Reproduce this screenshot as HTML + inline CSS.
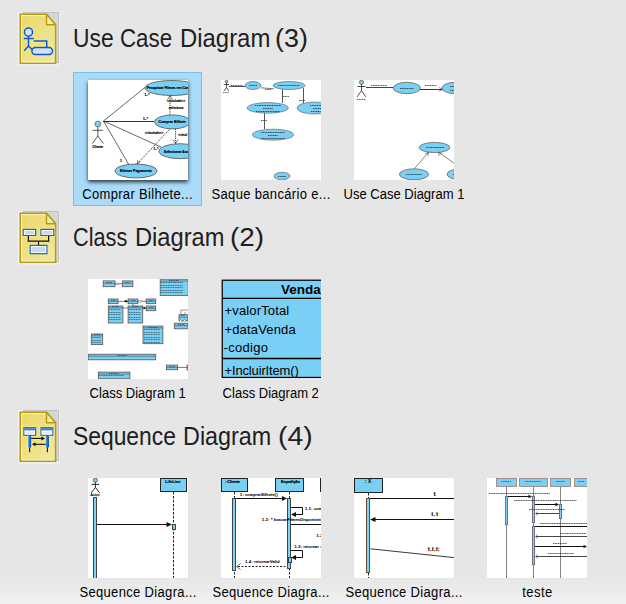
<!DOCTYPE html>
<html><head><meta charset="utf-8">
<style>
html,body{margin:0;padding:0;}
body{width:626px;height:604px;overflow:hidden;position:relative;background:#e6e6e6;font-family:"Liberation Sans",sans-serif;}
.fade{position:absolute;left:0;top:574px;width:626px;height:30px;background:linear-gradient(#e6e6e6,#f0f0f0);}
.title{position:absolute;left:72px;font-size:26px;line-height:30px;color:#202020;white-space:nowrap;transform:scaleX(.92);transform-origin:0 0;}
.lbl{position:absolute;font-size:14px;line-height:15px;color:#000;white-space:nowrap;text-align:center;width:140px;}
.lbl span{display:inline-block;transform:scaleX(.93);}
.tr{letter-spacing:.35px;}
.thumb{position:absolute;width:100px;height:100px;background:#fff;overflow:hidden;}
.thumb svg{position:absolute;left:0;top:0;font-family:"Liberation Sans",sans-serif;}
.sel{position:absolute;left:73px;top:72px;width:127px;height:132px;border:1px solid #74bff0;background:#aadcfa;}
.icon{position:absolute;left:16px;width:46px;height:56px;}
</style></head><body>
<div class="fade"></div>
<svg class="icon" style="top:10px" width="46" height="56" viewBox="0 0 46 56">
<defs><linearGradient id="pg10" x1="0" y1="0" x2="1" y2="1"><stop offset="0" stop-color="#ecd866"/><stop offset="1" stop-color="#f1e8a6"/></linearGradient></defs>
<rect x="2.5" y="2.5" width="40.5" height="52.5" fill="none" stroke="#f2f3f8" stroke-width="1"/>
<rect x="7.5" y="2.5" width="35" height="50" fill="#d6d6d6" stroke="#c2c2c2" stroke-width="1"/>
<path d="M4.25,4.25 H30.5 L39.6,14.8 V53.2 H4.25 Z" fill="url(#pg10)" stroke="#b59a12" stroke-width="1.5"/>
<path d="M38.3,51.9 H5.6 V5.6 H29.8" fill="none" stroke="#f7f0bd" stroke-width="1"/>
<path d="M30.5,4.25 V14.8 H39.6 Z" fill="#f5ec9e" stroke="#b59a12" stroke-width="1.4" stroke-linejoin="round"/>
<g stroke="#ffef60" stroke-width="3" fill="none" opacity=".6">
<circle cx="12.5" cy="22.1" r="4.3"/><path d="M7.7,28.6 H17.8 M12.5,26.4 V36 L8.2,40.8 M12.5,36 L15.9,39.4 M17.8,30.9 H30.7 V37"/>
<rect x="15.9" y="37.5" width="20.6" height="6.9" rx="3.45"/></g>
<g stroke="#0a5ad6" stroke-width="1.5" fill="#d3e0f0">
<circle cx="12.5" cy="22.1" r="4.1"/>
<path d="M7.7,28.6 H17.8 M12.5,26.4 V36 L8.2,40.8 M12.5,36 L15.9,39.4 M17.8,30.9 H30.7 V37.5" fill="none"/>
<rect x="15.9" y="37.5" width="20.6" height="6.9" rx="3.45"/></g>
</svg>
<div class="title" style="top:23px;left:72.64px;transform:scaleX(0.8791)">Use</div>
<div class="title" style="top:23px;left:120.14px;transform:scaleX(0.8576)">Case</div>
<div class="title" style="top:23px;left:179.86px;transform:scaleX(0.9189)">Diagram</div>
<div class="title" style="top:23px;left:274.73px;transform:scaleX(1.0357)">(3)</div>
<div class="sel"></div>
<div class="thumb" style="left:88px;top:80px;height:100px;box-shadow:0 2px 4px rgba(0,0,0,.8);"><svg width="100" height="100" viewBox="0 0 100 100"><line x1="15.5" y1="41" x2="56.8" y2="7.6" stroke="#222" stroke-width="0.7"/><line x1="15" y1="41.5" x2="66" y2="41.5" stroke="#333" stroke-width="1" opacity="1"/><line x1="15.5" y1="41" x2="73.5" y2="67.3" stroke="#222" stroke-width="0.7"/><line x1="15.5" y1="41" x2="41" y2="84.9" stroke="#222" stroke-width="0.7"/><line x1="82" y1="48.9" x2="49" y2="84" stroke="#222" stroke-width="0.9" stroke-dasharray="1.2,1"/><path d="M49,84 L50,80 M49,84 L52.5,81.5" stroke="#222" stroke-width=".6"/><line x1="82" y1="16" x2="82" y2="34.9" stroke="#222" stroke-width="0.9" stroke-dasharray="1.2,1"/><path d="M79.5,19.5 L82,15.5 L84.5,19.5" fill="none" stroke="#222" stroke-width=".6"/><line x1="87.6" y1="48.9" x2="87.6" y2="63.4" stroke="#222" stroke-width="0.9" stroke-dasharray="1.2,1"/><path d="M85.1,59.6 L87.6,63.6 L90.1,59.6" fill="none" stroke="#222" stroke-width=".6"/><ellipse cx="84" cy="8" rx="27" ry="7.5" fill="#7acff5" stroke="#4a3a30" stroke-width="0.7"/><ellipse cx="84.5" cy="41.9" rx="18" ry="7" fill="#7acff5" stroke="#4a3a30" stroke-width="0.7"/><ellipse cx="92" cy="71.2" rx="21" ry="7.5" fill="#7acff5" stroke="#4a3a30" stroke-width="0.7"/><ellipse cx="48" cy="91" rx="21" ry="7" fill="#7acff5" stroke="#4a3a30" stroke-width="0.7"/><circle cx="9.85" cy="43.9" r="2.9" fill="#7acff5" stroke="#5a4030" stroke-width="0.6000000000000001"/><path d="M4.55,50.3 H15.149999999999999 M9.85,46.8 V56 L4.25,63.6 M9.85,56 L15.45,63.6" stroke="#222" stroke-width="0.75" fill="none"/><text x="9.7" y="68.2" font-size="3.3" text-anchor="middle" font-weight="bold" fill="#000" stroke="#000" stroke-width="0.17">Cliente</text><text x="82" y="9.3" font-size="3.5" text-anchor="middle" font-weight="bold" fill="#000" stroke="#000" stroke-width="0.18">Pesquisar Filmes em Cartaz</text><text x="84" y="43.2" font-size="3.5" text-anchor="middle" font-weight="bold" fill="#000" stroke="#000" stroke-width="0.18">Comprar Bilhete</text><text x="92" y="72.5" font-size="3.5" text-anchor="middle" font-weight="bold" fill="#000" stroke="#000" stroke-width="0.18">Selecionar Assento</text><text x="48" y="92.3" font-size="3.5" text-anchor="middle" font-weight="bold" fill="#000" stroke="#000" stroke-width="0.18">Efetuar Pagamento</text><text x="59" y="15.5" font-size="3.2" text-anchor="middle" font-weight="bold" fill="#000" stroke="#000" stroke-width="0.16">1..*</text><text x="57.5" y="39.5" font-size="3.2" text-anchor="middle" font-weight="bold" fill="#000" stroke="#000" stroke-width="0.16">1..*</text><text x="68" y="70" font-size="3.2" text-anchor="middle" font-weight="bold" fill="#000" stroke="#000" stroke-width="0.16">1..*</text><text x="33" y="81.5" font-size="3.2" text-anchor="middle" font-weight="bold" fill="#000" stroke="#000" stroke-width="0.16">1</text><text x="88" y="22" font-size="3.2" text-anchor="middle" font-weight="bold" fill="#000" stroke="#000" stroke-width="0.16">&lt;&lt;include&gt;&gt;</text><text x="88" y="28.5" font-size="3.2" text-anchor="middle" font-weight="bold" fill="#000" stroke="#000" stroke-width="0.16">seleciona</text><text x="66" y="53.6" font-size="3.2" text-anchor="middle" font-weight="bold" fill="#000" stroke="#000" stroke-width="0.16">&lt;&lt;include&gt;&gt;</text><text x="90" y="55.6" font-size="3.2" text-anchor="start" font-weight="bold" fill="#000" stroke="#000" stroke-width="0.16">&lt;&lt;incl</text></svg></div>
<div class="thumb" style="left:221px;top:80px;height:100px;"><svg width="100" height="100" viewBox="0 0 100 100"><line x1="8" y1="6.5" x2="24" y2="6.5" stroke="#555" stroke-width="1" opacity="1"/><line x1="40" y1="7.8" x2="53" y2="8.8" stroke="#555" stroke-width="0.8"/><line x1="61.5" y1="9" x2="61.5" y2="23" stroke="#555" stroke-width="1" opacity="1"/><line x1="82.5" y1="8" x2="82.5" y2="23" stroke="#555" stroke-width="1" opacity="1"/><line x1="43.5" y1="33" x2="43.5" y2="49" stroke="#555" stroke-width="1" opacity="1"/><ellipse cx="32" cy="5.5" rx="8" ry="4" fill="#7acff5" stroke="#4a3a30" stroke-width="0.5"/><ellipse cx="68" cy="5.5" rx="16" ry="4" fill="#7acff5" stroke="#4a3a30" stroke-width="0.5"/><ellipse cx="46.7" cy="27.9" rx="20.6" ry="5.3" fill="#7acff5" stroke="#4a3a30" stroke-width="0.5"/><ellipse cx="93" cy="28" rx="17" ry="6" fill="#7acff5" stroke="#4a3a30" stroke-width="0.5"/><ellipse cx="52" cy="54.7" rx="20.6" ry="5.5" fill="#7acff5" stroke="#4a3a30" stroke-width="0.5"/><ellipse cx="61" cy="96" rx="8" ry="3.8" fill="#7acff5" stroke="#4a3a30" stroke-width="0.5"/><circle cx="5.5" cy="1.6" r="1.3" fill="#7acff5" stroke="#5a4030" stroke-width="0.6400000000000001"/><path d="M2.7,4.5 H8.3 M5.5,2.9000000000000004 V7.5 L3.1,10.8 M5.5,7.5 L7.9,10.8" stroke="#222" stroke-width="0.8" fill="none"/><line x1="2" y1="12.5" x2="8" y2="12.5" stroke="#222" stroke-width="1" stroke-dasharray="1.2,.5" opacity="0.6"/><line x1="10" y1="5.5" x2="22" y2="5.5" stroke="#222" stroke-width="1" stroke-dasharray="1.2,.5" opacity="0.75"/><line x1="44" y1="9.5" x2="50" y2="9.5" stroke="#222" stroke-width="1" stroke-dasharray="1.2,.5" opacity="0.75"/><line x1="62" y1="16.5" x2="68" y2="16.5" stroke="#222" stroke-width="1" stroke-dasharray="1.2,.5" opacity="0.75"/><line x1="78" y1="20.5" x2="84" y2="20.5" stroke="#222" stroke-width="1" stroke-dasharray="1.2,.5" opacity="0.75"/><line x1="40" y1="40.5" x2="46" y2="40.5" stroke="#222" stroke-width="1" stroke-dasharray="1.2,.5" opacity="0.75"/><line x1="28" y1="5.5" x2="36" y2="5.5" stroke="#222" stroke-width="1" stroke-dasharray="1.2,.5" opacity="0.75"/><line x1="57" y1="5.5" x2="79" y2="5.5" stroke="#222" stroke-width="1" stroke-dasharray="1.2,.5" opacity="0.75"/><line x1="34" y1="25.5" x2="60" y2="25.5" stroke="#222" stroke-width="1" stroke-dasharray="1.2,.5" opacity="0.75"/><line x1="42" y1="28.5" x2="52" y2="28.5" stroke="#222" stroke-width="1" stroke-dasharray="1.2,.5" opacity="0.75"/><line x1="35" y1="31.5" x2="59" y2="31.5" stroke="#222" stroke-width="1" stroke-dasharray="1.2,.5" opacity="0.75"/><line x1="89" y1="25.5" x2="103" y2="25.5" stroke="#222" stroke-width="1" stroke-dasharray="1.2,.5" opacity="0.75"/><line x1="92" y1="28.5" x2="100" y2="28.5" stroke="#222" stroke-width="1" stroke-dasharray="1.2,.5" opacity="0.75"/><line x1="90" y1="31.5" x2="102" y2="31.5" stroke="#222" stroke-width="1" stroke-dasharray="1.2,.5" opacity="0.75"/><line x1="40" y1="52.5" x2="64" y2="52.5" stroke="#222" stroke-width="1" stroke-dasharray="1.2,.5" opacity="0.75"/><line x1="47" y1="55.5" x2="57" y2="55.5" stroke="#222" stroke-width="1" stroke-dasharray="1.2,.5" opacity="0.75"/><line x1="40" y1="58.5" x2="64" y2="58.5" stroke="#222" stroke-width="1" stroke-dasharray="1.2,.5" opacity="0.75"/><line x1="57" y1="96.5" x2="65" y2="96.5" stroke="#222" stroke-width="1" stroke-dasharray="1.2,.5" opacity="0.75"/></svg></div>
<div class="thumb" style="left:354px;top:80px;height:100px;"><svg width="100" height="100" viewBox="0 0 100 100"><line x1="12" y1="7.5" x2="39" y2="7.5" stroke="#444" stroke-width="1" opacity="1"/><line x1="66" y1="9.5" x2="88" y2="9.5" stroke="#333" stroke-width="1" opacity="1"/><path d="M85,7.5 L88.6,9.4 L85,11.3" fill="none" stroke="#222" stroke-width=".5"/><line x1="60.3" y1="88.7" x2="74.3" y2="72.6" stroke="#333" stroke-width="0.6"/><path d="M71.2,73.6 L74.6,72.4 L74,76" fill="none" stroke="#222" stroke-width=".5"/><line x1="99.8" y1="83" x2="84.9" y2="72.6" stroke="#333" stroke-width="0.6"/><path d="M85,76 L84.6,72.4 L88.2,73.2" fill="none" stroke="#222" stroke-width=".5"/><ellipse cx="52.8" cy="8" rx="13.6" ry="5.7" fill="#7acff5" stroke="#4a3a30" stroke-width="0.6"/><ellipse cx="101" cy="8" rx="13" ry="5.7" fill="#7acff5" stroke="#4a3a30" stroke-width="0.6"/><ellipse cx="80.5" cy="67.5" rx="15.3" ry="5.1" fill="#7acff5" stroke="#4a3a30" stroke-width="0.6"/><ellipse cx="60" cy="94.3" rx="14.6" ry="5.5" fill="#7acff5" stroke="#4a3a30" stroke-width="0.6"/><ellipse cx="107" cy="94.3" rx="14" ry="5.5" fill="#7acff5" stroke="#4a3a30" stroke-width="0.6"/><circle cx="7.5" cy="2.3" r="2.1" fill="#7acff5" stroke="#5a4030" stroke-width="0.6400000000000001"/><path d="M3.5,6.5 H11.5 M7.5,4.4 V10.5 L3.2,16.8 M7.5,10.5 L11.8,16.8" stroke="#222" stroke-width="0.8" fill="none"/><line x1="3" y1="19.5" x2="12" y2="19.5" stroke="#222" stroke-width="1" stroke-dasharray="1.2,.5" opacity="0.7"/><line x1="17" y1="5.5" x2="33" y2="5.5" stroke="#222" stroke-width="1" stroke-dasharray="1.2,.5" opacity="0.75"/><line x1="71" y1="5.5" x2="83" y2="5.5" stroke="#222" stroke-width="1" stroke-dasharray="1.2,.5" opacity="0.75"/><line x1="46" y1="8.5" x2="60" y2="8.5" stroke="#222" stroke-width="1" stroke-dasharray="1.2,.5" opacity="0.75"/><line x1="96" y1="6.5" x2="100" y2="6.5" stroke="#222" stroke-width="1" stroke-dasharray="1.2,.5" opacity="0.75"/><line x1="96" y1="10.5" x2="100" y2="10.5" stroke="#222" stroke-width="1" stroke-dasharray="1.2,.5" opacity="0.75"/><line x1="72" y1="67.5" x2="90" y2="67.5" stroke="#222" stroke-width="1" stroke-dasharray="1.2,.5" opacity="0.75"/><line x1="52" y1="94.5" x2="68" y2="94.5" stroke="#222" stroke-width="1" stroke-dasharray="1.2,.5" opacity="0.75"/><line x1="99" y1="94.5" x2="103" y2="94.5" stroke="#222" stroke-width="1" stroke-dasharray="1.2,.5" opacity="0.75"/></svg></div>
<div class="lbl" style="left:68px;top:187px"><span class="tr">Comprar Bilhete...</span></div>
<div class="lbl" style="left:201px;top:187px"><span class="tr">Saque bancário e...</span></div>
<div class="lbl" style="left:334px;top:187px"><span>Use Case Diagram 1</span></div>
<svg class="icon" style="top:209px" width="46" height="56" viewBox="0 0 46 56">
<defs><linearGradient id="pg209" x1="0" y1="0" x2="1" y2="1"><stop offset="0" stop-color="#ecd866"/><stop offset="1" stop-color="#f1e8a6"/></linearGradient></defs>
<rect x="2.5" y="2.5" width="40.5" height="52.5" fill="none" stroke="#f2f3f8" stroke-width="1"/>
<rect x="7.5" y="2.5" width="35" height="50" fill="#d6d6d6" stroke="#c2c2c2" stroke-width="1"/>
<path d="M4.25,4.25 H30.5 L39.6,14.8 V53.2 H4.25 Z" fill="url(#pg209)" stroke="#b59a12" stroke-width="1.5"/>
<path d="M38.3,51.9 H5.6 V5.6 H29.8" fill="none" stroke="#f7f0bd" stroke-width="1"/>
<path d="M30.5,4.25 V14.8 H39.6 Z" fill="#f5ec9e" stroke="#b59a12" stroke-width="1.4" stroke-linejoin="round"/>
<g stroke="#fff170" stroke-width="3" fill="none" opacity=".6">
<rect x="7.2" y="20.4" width="12.5" height="6"/><rect x="25" y="20.4" width="12.8" height="6"/><rect x="14.2" y="36.4" width="16.7" height="8.3"/></g>
<path d="M12.4,26.4 V32.2 M32.6,26.4 V32.2 M11.6,32.2 H33.4 M22.5,32.2 V36.4" stroke="#111" stroke-width="1.2" fill="none"/>
<g stroke="#1560d8" stroke-width="1.2" fill="#c9d9ec">
<rect x="7.2" y="20.4" width="12.5" height="6"/><rect x="25" y="20.4" width="12.8" height="6"/><rect x="14.2" y="36.4" width="16.7" height="8.3"/></g>
<g stroke="#fff" stroke-width="0.8" fill="none">
<rect x="8.3" y="21.5" width="10.3" height="3.8"/><rect x="26.1" y="21.5" width="10.6" height="3.8"/><rect x="15.3" y="37.5" width="14.5" height="6.1"/></g>
</svg>
<div class="title" style="top:222px;left:72.77px;transform:scaleX(0.8349)">Class</div>
<div class="title" style="top:222px;left:134.68px;transform:scaleX(0.9105)">Diagram</div>
<div class="title" style="top:222px;left:230.46px;transform:scaleX(1.0714)">(2)</div>
<div class="thumb" style="left:88px;top:279px;height:100px;"><svg width="100" height="100" viewBox="0 0 100 100"><line x1="27" y1="4.8" x2="34.3" y2="4.8" stroke="#222" stroke-width="0.6"/><path d="M27,4.8 L29,3.8 L31,4.8 L29,5.8 Z" fill="#fff" stroke="#333" stroke-width=".4"/><line x1="30" y1="22.3" x2="58.2" y2="22.3" stroke="#222" stroke-width="0.6"/><path d="M40.1,22.3 L38,21 L36,22.3 L38,23.6 Z" fill="#111"/><path d="M49.8,22.3 L52,21 L54,22.3 L52,23.6 Z" fill="#fff" stroke="#333" stroke-width=".4"/><line x1="54.7" y1="29" x2="58.2" y2="29" stroke="#222" stroke-width="0.6"/><path d="M58.2,29 L55.5,27.6 V30.4 Z" fill="#111"/><line x1="34.9" y1="29" x2="40.1" y2="29" stroke="#222" stroke-width="0.6"/><line x1="45" y1="24.7" x2="45" y2="27" stroke="#222" stroke-width="0.6"/><line x1="89.6" y1="88.4" x2="99" y2="88.4" stroke="#222" stroke-width="0.6"/><path d="M93,35.7 V31 H100 M97,35.7 V33" stroke="#333" stroke-width=".5" fill="none"/><rect x="15.2" y="1.9" width="11.8" height="5.8" fill="#7acff5" stroke="#5e5048" stroke-width=".8"/><line x1="15.2" y1="4.3" x2="27.0" y2="4.3" stroke="#333" stroke-width=".5"/><line x1="18" y1="3.5" x2="24" y2="3.5" stroke="#222" stroke-width="1" stroke-dasharray="1.2,.5" opacity="0.6"/><rect x="34.3" y="1.9" width="10.6" height="5.8" fill="#7acff5" stroke="#5e5048" stroke-width=".8"/><line x1="34.3" y1="4.3" x2="44.9" y2="4.3" stroke="#333" stroke-width=".5"/><line x1="37" y1="3.5" x2="42" y2="3.5" stroke="#222" stroke-width="1" stroke-dasharray="1.2,.5" opacity="0.6"/><rect x="72.2" y="0.1" width="28" height="16.3" fill="#7acff5" stroke="#5e5048" stroke-width=".8"/><line x1="72.2" y1="2.1" x2="100.2" y2="2.1" stroke="#333" stroke-width=".5"/><line x1="81" y1="1.5" x2="91" y2="1.5" stroke="#222" stroke-width="1" stroke-dasharray="1.2,.5" opacity="0.6"/><line x1="73" y1="3.5" x2="95" y2="3.5" stroke="#222" stroke-width="1" stroke-dasharray="1.2,.5" opacity="0.55"/><line x1="73" y1="6.5" x2="95" y2="6.5" stroke="#222" stroke-width="1" stroke-dasharray="1.2,.5" opacity="0.55"/><line x1="73" y1="8.5" x2="95" y2="8.5" stroke="#222" stroke-width="1" stroke-dasharray="1.2,.5" opacity="0.55"/><line x1="73" y1="11.5" x2="95" y2="11.5" stroke="#222" stroke-width="1" stroke-dasharray="1.2,.5" opacity="0.55"/><line x1="73" y1="13.5" x2="95" y2="13.5" stroke="#222" stroke-width="1" stroke-dasharray="1.2,.5" opacity="0.55"/><rect x="20.3" y="20" width="9.7" height="4.7" fill="#7acff5" stroke="#5e5048" stroke-width=".8"/><line x1="20.3" y1="22.3" x2="30.0" y2="22.3" stroke="#333" stroke-width=".5"/><line x1="23" y1="21.5" x2="28" y2="21.5" stroke="#222" stroke-width="1" stroke-dasharray="1.2,.5" opacity="0.6"/><rect x="40.1" y="20" width="9.7" height="4.7" fill="#7acff5" stroke="#5e5048" stroke-width=".8"/><line x1="40.1" y1="22.3" x2="49.8" y2="22.3" stroke="#333" stroke-width=".5"/><line x1="43" y1="21.5" x2="48" y2="21.5" stroke="#222" stroke-width="1" stroke-dasharray="1.2,.5" opacity="0.6"/><rect x="58.2" y="20" width="9.5" height="4.7" fill="#7acff5" stroke="#5e5048" stroke-width=".8"/><line x1="58.2" y1="22.3" x2="67.7" y2="22.3" stroke="#333" stroke-width=".5"/><line x1="61" y1="21.5" x2="66" y2="21.5" stroke="#222" stroke-width="1" stroke-dasharray="1.2,.5" opacity="0.6"/><rect x="58.2" y="27" width="9.5" height="4.7" fill="#7acff5" stroke="#5e5048" stroke-width=".8"/><line x1="58.2" y1="29.3" x2="67.7" y2="29.3" stroke="#333" stroke-width=".5"/><line x1="61" y1="28.5" x2="66" y2="28.5" stroke="#222" stroke-width="1" stroke-dasharray="1.2,.5" opacity="0.6"/><rect x="20.3" y="27" width="14.6" height="17" fill="#7acff5" stroke="#5e5048" stroke-width=".8"/><line x1="20.3" y1="28.8" x2="34.9" y2="28.8" stroke="#333" stroke-width=".5"/><line x1="24" y1="27.5" x2="31" y2="27.5" stroke="#222" stroke-width="1" stroke-dasharray="1.2,.5" opacity="0.6"/><line x1="21" y1="30.5" x2="33" y2="30.5" stroke="#222" stroke-width="1" stroke-dasharray="1.2,.5" opacity="0.55"/><line x1="21" y1="33.5" x2="33" y2="33.5" stroke="#222" stroke-width="1" stroke-dasharray="1.2,.5" opacity="0.55"/><line x1="21" y1="35.5" x2="33" y2="35.5" stroke="#222" stroke-width="1" stroke-dasharray="1.2,.5" opacity="0.55"/><line x1="21" y1="38.5" x2="33" y2="38.5" stroke="#222" stroke-width="1" stroke-dasharray="1.2,.5" opacity="0.55"/><line x1="21" y1="40.5" x2="33" y2="40.5" stroke="#222" stroke-width="1" stroke-dasharray="1.2,.5" opacity="0.55"/><rect x="40.1" y="27" width="14.6" height="17" fill="#7acff5" stroke="#5e5048" stroke-width=".8"/><line x1="40.1" y1="28.8" x2="54.7" y2="28.8" stroke="#333" stroke-width=".5"/><line x1="44" y1="27.5" x2="51" y2="27.5" stroke="#222" stroke-width="1" stroke-dasharray="1.2,.5" opacity="0.6"/><line x1="41" y1="30.5" x2="53" y2="30.5" stroke="#222" stroke-width="1" stroke-dasharray="1.2,.5" opacity="0.55"/><line x1="41" y1="33.5" x2="53" y2="33.5" stroke="#222" stroke-width="1" stroke-dasharray="1.2,.5" opacity="0.55"/><line x1="41" y1="35.5" x2="53" y2="35.5" stroke="#222" stroke-width="1" stroke-dasharray="1.2,.5" opacity="0.55"/><line x1="41" y1="38.5" x2="53" y2="38.5" stroke="#222" stroke-width="1" stroke-dasharray="1.2,.5" opacity="0.55"/><line x1="41" y1="40.5" x2="53" y2="40.5" stroke="#222" stroke-width="1" stroke-dasharray="1.2,.5" opacity="0.55"/><rect x="55" y="47.1" width="19.9" height="17.6" fill="#7acff5" stroke="#5e5048" stroke-width=".8"/><line x1="55" y1="48.9" x2="74.9" y2="48.9" stroke="#333" stroke-width=".5"/><line x1="60" y1="48.5" x2="70" y2="48.5" stroke="#222" stroke-width="1" stroke-dasharray="1.2,.5" opacity="0.6"/><line x1="56" y1="50.5" x2="72" y2="50.5" stroke="#222" stroke-width="1" stroke-dasharray="1.2,.5" opacity="0.55"/><line x1="56" y1="53.5" x2="72" y2="53.5" stroke="#222" stroke-width="1" stroke-dasharray="1.2,.5" opacity="0.55"/><line x1="56" y1="55.5" x2="72" y2="55.5" stroke="#222" stroke-width="1" stroke-dasharray="1.2,.5" opacity="0.55"/><line x1="56" y1="58.5" x2="72" y2="58.5" stroke="#222" stroke-width="1" stroke-dasharray="1.2,.5" opacity="0.55"/><line x1="56" y1="60.5" x2="72" y2="60.5" stroke="#222" stroke-width="1" stroke-dasharray="1.2,.5" opacity="0.55"/><line x1="56" y1="63.5" x2="72" y2="63.5" stroke="#222" stroke-width="1" stroke-dasharray="1.2,.5" opacity="0.55"/><rect x="3.3" y="55" width="11.4" height="10.6" fill="#7acff5" stroke="#5e5048" stroke-width=".8"/><line x1="3.3" y1="56.8" x2="14.7" y2="56.8" stroke="#333" stroke-width=".5"/><line x1="6" y1="55.5" x2="12" y2="55.5" stroke="#222" stroke-width="1" stroke-dasharray="1.2,.5" opacity="0.6"/><line x1="4" y1="58.5" x2="13" y2="58.5" stroke="#222" stroke-width="1" stroke-dasharray="1.2,.5" opacity="0.55"/><line x1="4" y1="61.5" x2="13" y2="61.5" stroke="#222" stroke-width="1" stroke-dasharray="1.2,.5" opacity="0.55"/><line x1="4" y1="63.5" x2="13" y2="63.5" stroke="#222" stroke-width="1" stroke-dasharray="1.2,.5" opacity="0.55"/><rect x="0.1" y="75.2" width="67.6" height="5.6" fill="#7acff5" stroke="#5e5048" stroke-width=".8"/><line x1="0.1" y1="77.2" x2="67.69999999999999" y2="77.2" stroke="#333" stroke-width=".5"/><line x1="29" y1="76.5" x2="39" y2="76.5" stroke="#222" stroke-width="1" stroke-dasharray="1.2,.5" opacity="0.6"/><rect x="78.4" y="86.1" width="11.2" height="4.6" fill="#7acff5" stroke="#5e5048" stroke-width=".8"/><line x1="78.4" y1="88.39999999999999" x2="89.60000000000001" y2="88.39999999999999" stroke="#333" stroke-width=".5"/><line x1="81" y1="87.5" x2="87" y2="87.5" stroke="#222" stroke-width="1" stroke-dasharray="1.2,.5" opacity="0.6"/><rect x="99" y="86" width="2" height="5" fill="#7acff5" stroke="#5e5048" stroke-width=".8"/><line x1="99" y1="88.5" x2="101" y2="88.5" stroke="#333" stroke-width=".5"/><line x1="100" y1="87.5" x2="101" y2="87.5" stroke="#222" stroke-width="1" stroke-dasharray="1.2,.5" opacity="0.6"/><rect x="10.3" y="93.1" width="31.6" height="6.7" fill="#7acff5" stroke="#5e5048" stroke-width=".8"/><line x1="10.3" y1="95.1" x2="41.900000000000006" y2="95.1" stroke="#333" stroke-width=".5"/><line x1="21" y1="94.5" x2="31" y2="94.5" stroke="#222" stroke-width="1" stroke-dasharray="1.2,.5" opacity="0.6"/><line x1="11" y1="96.5" x2="36" y2="96.5" stroke="#222" stroke-width="1" stroke-dasharray="1.2,.5" opacity="0.55"/><rect x="91" y="35.7" width="9" height="6.2" fill="#7acff5" stroke="#5e5048" stroke-width=".8"/><line x1="91" y1="38.2" x2="100" y2="38.2" stroke="#333" stroke-width=".5"/><line x1="93" y1="36.5" x2="97" y2="36.5" stroke="#222" stroke-width="1" stroke-dasharray="1.2,.5" opacity="0.6"/><rect x="86.3" y="44.2" width="13.7" height="5.6" fill="#7acff5" stroke="#5e5048" stroke-width=".8"/><line x1="86.3" y1="46.7" x2="100.0" y2="46.7" stroke="#333" stroke-width=".5"/><line x1="90" y1="45.5" x2="97" y2="45.5" stroke="#222" stroke-width="1" stroke-dasharray="1.2,.5" opacity="0.6"/><path d="M91,42 L92.5,40.5 L94,42 M95,42 L96.5,40.5 L98,42" fill="#fff" stroke="#333" stroke-width=".4"/></svg></div>
<div class="thumb" style="left:221px;top:279px;height:99px;"><svg width="100" height="99" viewBox="0 0 100 99"><rect x="0" y="0" width="100" height="99" fill="#fff"/>
<rect x="1.2" y="1.2" width="110" height="97.3" fill="#7acff5" stroke="#000" stroke-width="1.3"/>
<line x1="1" y1="19.4" x2="100" y2="19.4" stroke="#000" stroke-width="1.3"/>
<line x1="1" y1="79.5" x2="100" y2="79.5" stroke="#000" stroke-width="1.3"/>
<text x="60" y="14.5" font-size="13.5" font-weight="bold">Venda</text>
<text x="3.5" y="35.7" font-size="13" letter-spacing=".15">+valorTotal</text>
<text x="3.5" y="54.5" font-size="13" letter-spacing=".15">+dataVenda</text>
<text x="2.5" y="72.5" font-size="13" letter-spacing=".3">-codigo</text>
<text x="3.5" y="95.5" font-size="13" letter-spacing="-.15">+IncluirItem()</text></svg></div>
<div class="lbl" style="left:68px;top:386px"><span>Class Diagram 1</span></div>
<div class="lbl" style="left:201px;top:386px"><span>Class Diagram 2</span></div>
<svg class="icon" style="top:408px" width="46" height="56" viewBox="0 0 46 56">
<defs><linearGradient id="pg408" x1="0" y1="0" x2="1" y2="1"><stop offset="0" stop-color="#ecd866"/><stop offset="1" stop-color="#f1e8a6"/></linearGradient></defs>
<rect x="2.5" y="2.5" width="40.5" height="52.5" fill="none" stroke="#f2f3f8" stroke-width="1"/>
<rect x="7.5" y="2.5" width="35" height="50" fill="#d6d6d6" stroke="#c2c2c2" stroke-width="1"/>
<path d="M4.25,4.25 H30.5 L39.6,14.8 V53.2 H4.25 Z" fill="url(#pg408)" stroke="#b59a12" stroke-width="1.5"/>
<path d="M38.3,51.9 H5.6 V5.6 H29.8" fill="none" stroke="#f7f0bd" stroke-width="1"/>
<path d="M30.5,4.25 V14.8 H39.6 Z" fill="#f5ec9e" stroke="#b59a12" stroke-width="1.4" stroke-linejoin="round"/>
<defs><linearGradient id="act" x1="0" x2="1"><stop offset="0" stop-color="#5fa8ea"/><stop offset=".5" stop-color="#1f6fd0"/><stop offset="1" stop-color="#0c4fb0"/></linearGradient></defs>
<g stroke="#fff170" stroke-width="3" fill="none" opacity=".6">
<rect x="7.9" y="19.7" width="11.8" height="7.6"/><rect x="25" y="19.7" width="11.8" height="7.6"/>
<rect x="12.1" y="27.6" width="3.1" height="12.2"/><rect x="29.8" y="27.6" width="3.2" height="12.2"/></g>
<path d="M13.6,27 V44.2 M31.4,27 V44.2" stroke="#111" stroke-width="1.1"/>
<g stroke="#1560d8" stroke-width="1.1"><rect x="7.9" y="19.7" width="11.8" height="7.6" fill="#dfe8f4"/><rect x="25" y="19.7" width="11.8" height="7.6" fill="#dfe8f4"/></g>
<rect x="8.4" y="20.2" width="10.8" height="2.3" fill="#3d7ed8"/><rect x="25.5" y="20.2" width="10.8" height="2.3" fill="#3d7ed8"/>
<rect x="9" y="23.1" width="9.6" height="3" fill="#e2eaf5" stroke="#fff" stroke-width=".8"/><rect x="26.1" y="23.1" width="9.6" height="3" fill="#e2eaf5" stroke="#fff" stroke-width=".8"/>
<rect x="12.1" y="27.6" width="3.1" height="12.2" rx="1.4" fill="url(#act)"/><rect x="29.8" y="27.6" width="3.2" height="12.2" rx="1.4" fill="url(#act)"/>
<path d="M15.2,30.4 H26" stroke="#111" stroke-width="1.1"/><path d="M29,30.4 L25.5,28.4 V32.4 Z" fill="#111"/>
<path d="M29.8,36.3 H19" stroke="#111" stroke-width="1.1"/><path d="M16,36.3 L19.5,34.3 V38.3 Z" fill="#111"/>
</svg>
<div class="title" style="top:421px;left:72.62px;transform:scaleX(0.8783)">Sequence</div>
<div class="title" style="top:421px;left:182.80px;transform:scaleX(0.8989)">Diagram</div>
<div class="title" style="top:421px;left:277.82px;transform:scaleX(1.0893)">(4)</div>
<div class="thumb" style="left:88px;top:478px;height:100px;"><svg width="100" height="100" viewBox="0 0 100 100"><circle cx="7.4" cy="2.2" r="2.1" fill="#7acff5" stroke="#5a4030" stroke-width="0.7200000000000001"/><path d="M3.6000000000000005,6.4 H11.2 M7.4,4.300000000000001 V9.5 L3.1000000000000005,14.9 M7.4,9.5 L11.7,14.9" stroke="#111" stroke-width="0.9" fill="none"/><text x="7.2" y="17.6" font-size="3.6" text-anchor="middle" font-weight="normal" fill="#000" stroke="#000" stroke-width="0.18" letter-spacing="0.2">Actor</text><rect x="72.5" y="0.5" width="26" height="13" fill="#7acff5" stroke="#222" stroke-width="1" stroke-opacity="1"/><text x="85" y="5" font-size="3.6" text-anchor="middle" font-weight="bold" fill="#000" stroke="#000" stroke-width="0.18" letter-spacing="0.2">LifeLine</text><line x1="85.5" y1="14" x2="85.5" y2="100" stroke="#222" stroke-width="1" opacity="1" stroke-dasharray="2.5,1.5"/><rect x="5.5" y="19.5" width="3" height="81" fill="#7ad4f2" stroke="#333" stroke-width="1" stroke-opacity="0.9"/><line x1="9" y1="46.5" x2="80" y2="46.5" stroke="#111" stroke-width="1" opacity="1"/><path d="M84,46.5 L78.5,44 V49 Z" fill="#111"/><rect x="84.5" y="46.5" width="3" height="5" fill="#7ad4f2" stroke="#333" stroke-width="1" stroke-opacity="0.9"/></svg></div>
<div class="thumb" style="left:221px;top:478px;height:100px;"><svg width="100" height="100" viewBox="0 0 100 100"><rect x="0.5" y="0.5" width="26" height="13" fill="#7acff5" stroke="#222" stroke-width="1" stroke-opacity="1"/><rect x="54.5" y="0.5" width="28" height="13" fill="#7acff5" stroke="#222" stroke-width="1" stroke-opacity="1"/><rect x="99.5" y="0.5" width="10" height="13" fill="#7acff5" stroke="#222" stroke-width="1" stroke-opacity="1"/><text x="4" y="4.6" font-size="3.8" text-anchor="start" font-weight="bold" fill="#000" stroke="#000" stroke-width="0.19">: Cliente</text><text x="60" y="4.6" font-size="3.8" text-anchor="start" font-weight="bold" fill="#000" stroke="#000" stroke-width="0.19">Expedição</text><line x1="13.5" y1="14" x2="13.5" y2="100" stroke="#222" stroke-width="1" opacity="1" stroke-dasharray="2.5,1.5"/><line x1="68.5" y1="14" x2="68.5" y2="100" stroke="#222" stroke-width="1" opacity="1" stroke-dasharray="2.5,1.5"/><rect x="11.5" y="20.5" width="3" height="72" fill="#7ad4f2" stroke="#333" stroke-width="1" stroke-opacity="0.9"/><rect x="66.5" y="20.5" width="3" height="70" fill="#7ad4f2" stroke="#333" stroke-width="1" stroke-opacity="0.9"/><line x1="15" y1="20.5" x2="62" y2="20.5" stroke="#111" stroke-width="1" opacity="1"/><path d="M66,20.5 L61,18 V23 Z" fill="#111"/><text x="19" y="17.6" font-size="3.8" text-anchor="start" font-weight="normal" fill="#000" stroke="#000" stroke-width="0.19" letter-spacing="0.3">1: comprarBilhete()</text><path d="M70,29.5 H81.5 V36.5 H74" stroke="#111" stroke-width="1" fill="none"/><path d="M70,36.5 L75,34 V39 Z" fill="#111"/><text x="84" y="32" font-size="3.8" text-anchor="start" font-weight="normal" fill="#000" stroke="#000" stroke-width="0.19" letter-spacing="0.3">1.1: comprar</text><line x1="70" y1="46.5" x2="100" y2="46.5" stroke="#111" stroke-width="1" opacity="1"/><text x="41" y="43.2" font-size="3.8" text-anchor="start" font-weight="normal" fill="#000" stroke="#000" stroke-width="0.19" letter-spacing="0.3">1.2: * buscarFilmesDisponiveis(cidade)</text><text x="95.4" y="59" font-size="3.8" text-anchor="start" font-weight="normal" fill="#000" stroke="#000" stroke-width="0.19" letter-spacing="0.3">1.2</text><path d="M70,72.5 H81.5 V79.5 H74" stroke="#111" stroke-width="1" fill="none"/><path d="M70,79.5 L75,77 V82 Z" fill="#111"/><text x="73.5" y="70" font-size="3.8" text-anchor="start" font-weight="normal" fill="#000" stroke="#000" stroke-width="0.19" letter-spacing="0.3">1.3: retornar confirmacao</text><rect x="67.5" y="79.5" width="3" height="5" fill="#7ad4f2" stroke="#333" stroke-width="1" stroke-opacity="0.9"/><line x1="17" y1="88.5" x2="66" y2="88.5" stroke="#222" stroke-width="1" opacity="1" stroke-dasharray="2,1.5"/><path d="M19.5,85.5 L15.5,88.5 L19.5,91.5" fill="none" stroke="#222" stroke-width=".7"/><text x="24.3" y="85" font-size="3.8" text-anchor="start" font-weight="normal" fill="#000" stroke="#000" stroke-width="0.19" letter-spacing="0.3">1.4: retornarValid</text></svg></div>
<div class="thumb" style="left:354px;top:478px;height:100px;"><svg width="100" height="100" viewBox="0 0 100 100"><rect x="0.5" y="0.5" width="28" height="14" fill="#7acff5" stroke="#222" stroke-width="1" stroke-opacity="1"/><text x="14.2" y="5" font-size="4.8" text-anchor="middle" font-weight="normal" fill="#000" stroke="#000" stroke-width="0.24" letter-spacing="0.4">: X</text><line x1="14.5" y1="15" x2="14.5" y2="100" stroke="#222" stroke-width="1" opacity="1" stroke-dasharray="2.5,1.5"/><rect x="12.5" y="20.5" width="3" height="74" fill="#7ad4f2" stroke="#6a4a40" stroke-width="1" stroke-opacity="1"/><line x1="16" y1="20.5" x2="100" y2="20.5" stroke="#111" stroke-width="1" opacity="1"/><text x="80.5" y="18.2" font-size="6" text-anchor="middle" font-weight="normal" fill="#000" stroke="#000" stroke-width="0.30">t</text><line x1="20" y1="41.5" x2="100" y2="41.5" stroke="#111" stroke-width="1" opacity="1"/><path d="M16,41.5 L21.5,39 V44 Z" fill="#111"/><text x="81" y="38.4" font-size="5.5" text-anchor="middle" font-weight="normal" fill="#000" stroke="#000" stroke-width="0.28" letter-spacing="0.8">t.t</text><line x1="16.4" y1="70.8" x2="100" y2="79.6" stroke="#222" stroke-width="0.9"/><text x="80" y="73.4" font-size="5.5" text-anchor="middle" font-weight="normal" fill="#000" stroke="#000" stroke-width="0.28" letter-spacing="0.5">t.t.t:</text></svg></div>
<div class="thumb" style="left:487px;top:478px;height:100px;"><svg width="100" height="100" viewBox="0 0 100 100"><line x1="19.5" y1="8" x2="19.5" y2="100" stroke="#777" stroke-width="1" opacity="0.9"/><line x1="46.5" y1="8" x2="46.5" y2="100" stroke="#777" stroke-width="1" opacity="0.9"/><line x1="73.5" y1="8" x2="73.5" y2="100" stroke="#777" stroke-width="1" opacity="0.9"/><rect x="9.5" y="0.5" width="20" height="8" fill="#7acff5" stroke="#9a7a6a" stroke-width="1" stroke-opacity="0.8"/><rect x="32.5" y="0.5" width="28" height="8" fill="#7acff5" stroke="#9a7a6a" stroke-width="1" stroke-opacity="0.8"/><rect x="63.5" y="0.5" width="20" height="8" fill="#7acff5" stroke="#9a7a6a" stroke-width="1" stroke-opacity="0.8"/><rect x="87.5" y="0.5" width="15" height="8" fill="#7acff5" stroke="#9a7a6a" stroke-width="1" stroke-opacity="0.8"/><line x1="14" y1="3.5" x2="24" y2="3.5" stroke="#222" stroke-width="1" stroke-dasharray="1.2,.5" opacity="0.6"/><line x1="38" y1="3.5" x2="54" y2="3.5" stroke="#222" stroke-width="1" stroke-dasharray="1.2,.5" opacity="0.6"/><line x1="69" y1="3.5" x2="78" y2="3.5" stroke="#222" stroke-width="1" stroke-dasharray="1.2,.5" opacity="0.6"/><line x1="91" y1="3.5" x2="97" y2="3.5" stroke="#222" stroke-width="1" stroke-dasharray="1.2,.5" opacity="0.6"/><rect x="18.5" y="18.5" width="2" height="28" fill="#7ad4f2" stroke="#556" stroke-width="1" stroke-opacity="0.8"/><rect x="45.5" y="18.5" width="2" height="26" fill="#7ad4f2" stroke="#556" stroke-width="1" stroke-opacity="0.8"/><rect x="45.5" y="48.5" width="2" height="38" fill="#7ad4f2" stroke="#556" stroke-width="1" stroke-opacity="0.8"/><rect x="72.5" y="26.5" width="2" height="14" fill="#7ad4f2" stroke="#556" stroke-width="1" stroke-opacity="0.8"/><line x1="21" y1="18.5" x2="44" y2="18.5" stroke="#111" stroke-width="1" opacity="1"/><path d="M45,18.5 L41.5,16.8 V20.2 Z" fill="#111"/><line x1="2" y1="15.5" x2="63" y2="15.5" stroke="#222" stroke-width="1" stroke-dasharray="1.2,.5" opacity="0.75"/><line x1="48" y1="26.5" x2="71" y2="26.5" stroke="#111" stroke-width="1" opacity="1"/><path d="M72,26.5 L68.5,24.8 V28.2 Z" fill="#111"/><line x1="27" y1="22.5" x2="90" y2="22.5" stroke="#222" stroke-width="1" stroke-dasharray="1.2,.5" opacity="0.75"/><line x1="49" y1="35.5" x2="72" y2="35.5" stroke="#333" stroke-width="1" opacity="0.9"/><path d="M51,33.5 L48.5,35.5 L51,37.5" fill="none" stroke="#333" stroke-width=".5"/><line x1="42" y1="31.5" x2="78" y2="31.5" stroke="#222" stroke-width="1" stroke-dasharray="1.2,.5" opacity="0.75"/><line x1="48" y1="48.5" x2="100" y2="48.5" stroke="#111" stroke-width="1" opacity="1"/><line x1="53" y1="45.5" x2="100" y2="45.5" stroke="#222" stroke-width="1" stroke-dasharray="1.2,.5" opacity="0.75"/><line x1="49" y1="58.5" x2="100" y2="58.5" stroke="#333" stroke-width="1" opacity="0.9"/><path d="M51,56.5 L48.5,58.5 L51,60.5" fill="none" stroke="#333" stroke-width=".5"/><line x1="73" y1="55.5" x2="99" y2="55.5" stroke="#222" stroke-width="1" stroke-dasharray="1.2,.5" opacity="0.75"/><line x1="48" y1="68.5" x2="97" y2="68.5" stroke="#111" stroke-width="1" opacity="1"/><path d="M100,68.5 L96.5,66.8 V70.2 Z" fill="#111"/><line x1="66" y1="65.5" x2="80" y2="65.5" stroke="#222" stroke-width="1" stroke-dasharray="1.2,.5" opacity="0.75"/><line x1="49" y1="78.5" x2="100" y2="78.5" stroke="#333" stroke-width="1" opacity="0.9"/><path d="M51,76.5 L48.5,78.5 L51,80.5" fill="none" stroke="#333" stroke-width=".5"/><line x1="61" y1="75.5" x2="87" y2="75.5" stroke="#222" stroke-width="1" stroke-dasharray="1.2,.5" opacity="0.75"/></svg></div>
<div class="lbl" style="left:68px;top:585px"><span class="tr">Sequence Diagra...</span></div>
<div class="lbl" style="left:201px;top:585px"><span class="tr">Sequence Diagra...</span></div>
<div class="lbl" style="left:334px;top:585px"><span class="tr">Sequence Diagra...</span></div>
<div class="lbl" style="left:467px;top:585px"><span style="letter-spacing:.5px">teste</span></div>
</body></html>
